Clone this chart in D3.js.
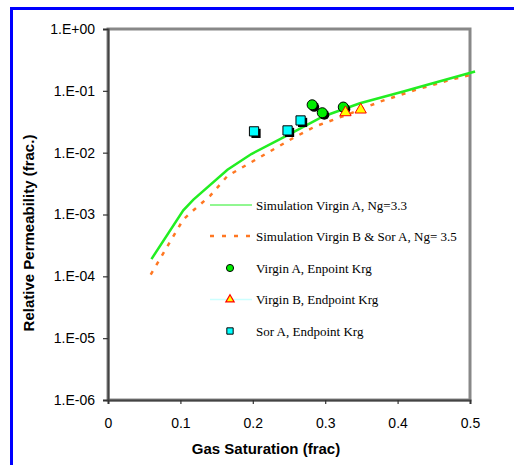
<!DOCTYPE html>
<html>
<head>
<meta charset="utf-8">
<script src="https://cdn.jsdelivr.net/npm/d3@7"></script>
<style>
  body { margin: 0; background: #fff; }
  svg { display: block; }
</style>
</head>
<body>
<svg id="chart"></svg>
<script>
// simulated curves
const simASg  = [0.06, 0.104, 0.118, 0.165, 0.198, 0.247, 0.297, 0.348, 0.408, 0.435, 0.507];
const simAKrg = [1.9e-4, 1.17e-3, 1.74e-3, 5.3e-3, 9.5e-3, 0.0188, 0.0385, 0.063, 0.0975, 0.12, 0.205];
const simBSg  = [0.059, 0.104, 0.118, 0.141, 0.165, 0.208, 0.256, 0.286, 0.330, 0.376, 0.422, 0.472, 0.507];
const simBKrg = [1.07e-4, 8.3e-4, 1.17e-3, 2.0e-3, 4.2e-3, 8.2e-3, 0.0173, 0.0265, 0.041, 0.067, 0.101, 0.150, 0.188];

// measured endpoints
const virginASg  = [0.282, 0.296, 0.325];
const virginAKrg = [0.0594, 0.0442, 0.0546];
const virginBSg  = [0.328, 0.349];
const virginBKrg = [0.0447, 0.0494];
const sorASg  = [0.2017, 0.248, 0.266];
const sorAKrg = [0.0221, 0.0229, 0.0332];

const xTicks = [0, 0.1, 0.2, 0.3, 0.4, 0.5];
const yTicks = [1e-6, 1e-5, 1e-4, 1e-3, 1e-2, 1e-1, 1];

const legendLabels = [
  "Simulation Virgin A, Ng=3.3",
  "Simulation Virgin B & Sor A, Ng= 3.5",
  "Virgin A, Enpoint Krg",
  "Virgin B, Endpoint Krg",
  "Sor A, Endpoint Krg"
];

const W = 514, H = 465;
const svg = d3.select("#chart").attr("width", W).attr("height", H);

// blue outer frame (runs off the right and bottom)
svg.append("rect")
  .attr("x", 11.5).attr("y", 8.5)
  .attr("width", W + 20).attr("height", H + 20)
  .attr("fill", "none")
  .attr("stroke", "#0000ff")
  .attr("stroke-width", 3);

const x = d3.scaleLinear().domain([0, 0.5]).range([108, 470]);
const y = d3.scaleLog().domain([1e-6, 1]).range([400, 29]);

// plot area border
svg.append("rect")
  .attr("x", x(0)).attr("y", y(1))
  .attr("width", x(0.5) - x(0)).attr("height", y(1e-6) - y(1))
  .attr("fill", "#fff")
  .attr("stroke", "#888")
  .attr("stroke-width", 3);

const fmt = d => {
  const e = Math.round(Math.log10(d));
  return "1.E" + (e >= 0 ? "+" : "-") + String(Math.abs(e)).padStart(2, "0");
};

const yAxis = svg.append("g")
  .attr("transform", `translate(${x(0)},0)`)
  .call(d3.axisLeft(y).tickValues(yTicks).tickFormat(fmt).tickSize(5).tickPadding(8));
const xAxis = svg.append("g")
  .attr("transform", `translate(0,${y(1e-6)})`)
  .call(d3.axisBottom(x).tickValues(xTicks).tickFormat(d3.format("")).tickSize(4).tickPadding(14));

[xAxis, yAxis].forEach(g => {
  g.select(".domain").attr("stroke", "#444").attr("stroke-width", 2);
  g.selectAll(".tick line").attr("stroke", "#333").attr("stroke-width", 1.2);
  g.selectAll("text")
    .attr("fill", "#000")
    .style("font-family", "'Liberation Sans', Arial, sans-serif")
    .style("font-size", "14px");
});

// axis titles
svg.append("text")
  .attr("x", 266).attr("y", 454)
  .attr("text-anchor", "middle")
  .style("font-family", "'Liberation Sans', Arial, sans-serif")
  .style("font-size", "15px").style("font-weight", "bold")
  .text("Gas Saturation (frac)");

svg.append("text")
  .attr("transform", "translate(34,233) rotate(-90)")
  .attr("text-anchor", "middle")
  .style("font-family", "'Liberation Sans', Arial, sans-serif")
  .style("font-size", "15px").style("font-weight", "bold")
  .text("Relative Permeability (frac.)");

// curves
const line = d3.line().x(d => x(d[0])).y(d => y(d[1]));
svg.append("path")
  .datum(d3.zip(simBSg, simBKrg))
  .attr("d", line)
  .attr("fill", "none")
  .attr("stroke", "#ff7722")
  .attr("stroke-width", 2.5)
  .attr("stroke-dasharray", "4,7");
svg.append("path")
  .datum(d3.zip(simASg, simAKrg))
  .attr("d", line)
  .attr("fill", "none")
  .attr("stroke", "#22ee22")
  .attr("stroke-width", 2.5);

// markers
const circ = d3.symbol().type(d3.symbolCircle).size(80);
const sq = d3.symbol().type(d3.symbolSquare).size(85);
const tri = d3.symbol().type(d3.symbolTriangle).size(55);

function markers(sg, krg, sym, fill, stroke, shadow) {
  const pts = d3.zip(sg, krg);
  if (shadow) {
    svg.append("g").selectAll("path").data(pts).join("path")
      .attr("d", sym)
      .attr("transform", d => `translate(${x(d[0]) + 2},${y(d[1]) + 2})`)
      .attr("fill", "#000");
  }
  svg.append("g").selectAll("path").data(pts).join("path")
    .attr("d", sym)
    .attr("transform", d => `translate(${x(d[0])},${y(d[1])})`)
    .attr("fill", fill)
    .attr("stroke", stroke)
    .attr("stroke-width", 1);
}
markers(sorASg, sorAKrg, sq, "#00ffff", "#000", true);
markers(virginASg, virginAKrg, circ, "#00ee00", "#000", true);
markers(virginBSg, virginBKrg, tri, "#ffff00", "#ff0000", false);

// legend
const lg = svg.append("g");
const ly = [205, 236, 268, 299.5, 331];
legendLabels.forEach((t, i) => {
  lg.append("text")
    .attr("x", 256).attr("y", ly[i])
    .attr("dy", "0.35em")
    .style("font-family", "'Liberation Serif', 'Times New Roman', serif")
    .style("font-size", "13px")
    .text(t);
});
lg.append("line").attr("x1", 210).attr("x2", 252).attr("y1", ly[0]).attr("y2", ly[0])
  .attr("stroke", "#22ee22").attr("stroke-width", 1);
lg.append("line").attr("x1", 210).attr("x2", 252).attr("y1", ly[1]).attr("y2", ly[1])
  .attr("stroke", "#ff7722").attr("stroke-width", 2.5).attr("stroke-dasharray", "4,8");
lg.append("line").attr("x1", 210).attr("x2", 252).attr("y1", ly[3]).attr("y2", ly[3])
  .attr("stroke", "#ccffff").attr("stroke-width", 1.5);
lg.append("path").attr("d", d3.symbol().type(d3.symbolCircle).size(40))
  .attr("transform", `translate(230,${ly[2]})`)
  .attr("fill", "#00ee00").attr("stroke", "#000");
lg.append("path").attr("d", d3.symbol().type(d3.symbolTriangle).size(30))
  .attr("transform", `translate(230,${ly[3]})`)
  .attr("fill", "#ffff00").attr("stroke", "#ff0000").attr("stroke-width", 1.2);
lg.append("path").attr("d", d3.symbol().type(d3.symbolSquare).size(40))
  .attr("transform", `translate(230,${ly[4]})`)
  .attr("fill", "#00ffff").attr("stroke", "#000");
</script>
</body>
</html>
